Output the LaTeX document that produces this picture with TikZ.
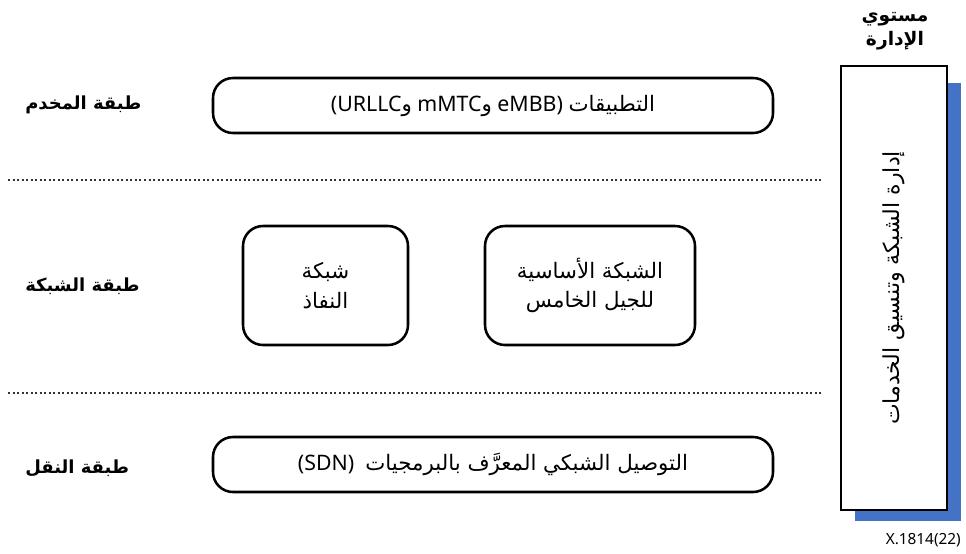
\documentclass[tikz,border=0pt]{standalone}
\usepackage{fontspec}
\setmainfont{Noto Sans}
\newfontfamily\arabicfont[Script=Arabic]{DejaVu Sans}
\TeXXeTstate=1
\newcommand\arab[1]{{\arabicfont\beginR #1\endR}}
\definecolor{shadowblue}{HTML}{4472C4}
\definecolor{dotgray}{HTML}{333333}

\begin{document}
\begin{tikzpicture}[x=0.75pt,y=-0.75pt,
  layerbox/.style={draw=black, line width=1.9pt, rounded corners=15pt,
    fill=white, align=center, inner sep=0pt,
    font=\fontsize{16}{22}\selectfont},
  layerlabel/.style={anchor=west, inner sep=0pt,
    font=\fontsize{13.5}{16}\selectfont\bfseries},
  dotline/.style={draw=dotgray, line width=1.5pt, dash pattern=on 1.5pt off 1.9pt},
  mgmtbox/.style={draw=black, line width=2.2pt, fill=white,
    minimum width=79.5pt, minimum height=333pt, inner sep=0pt},
]
\useasboundingbox (0,0) rectangle (966,553);

% layer separators
\coordinate (sepAw) at (8,180);
\coordinate (sepAe) at (823,180);
\coordinate (sepBw) at (8,393);
\coordinate (sepBe) at (823,393);
\draw[dotline] (sepAw) -- (sepAe);
\draw[dotline] (sepBw) -- (sepBe);

% layer names
\node[layerlabel] (lserver) at (25,105) {\arab{طبقة المخدم}};
\node[layerlabel] (lnet) at (25,286) {\arab{طبقة الشبكة}};
\node[layerlabel] (ltrans) at (25,468) {\arab{طبقة النقل}};

% service layer
\node[layerbox, minimum width=420pt, minimum height=41.25pt] (apps) at (493,105.5)
  {(URLLC\arab{و} mMTC\arab{و} eMBB) \arab{التطبيقات}};

% network layer
\node[layerbox, minimum width=123.75pt, minimum height=89.25pt] (access) at (325.5,285.5)
  {\arab{شبكة}\\\arab{النفاذ}};
\node[layerbox, minimum width=157.5pt, minimum height=89.25pt] (core) at (590,285.5)
  {\arab{الشبكة الأساسية}\\\arab{للجيل الخامس}};

% transport layer
\node[layerbox, minimum width=420pt, minimum height=41.25pt] (sdn) at (493,464.5)
  {(SDN)\ \ \arab{التوصيل الشبكي المعرَّف بالبرمجيات}};

% management plane
\fill[shadowblue] (855,83) rectangle (961,521);
\node[mgmtbox] (mgmt) at (894,288) {};
\node[rotate=90, inner sep=0pt, font=\fontsize{16.5}{19}\selectfont] (mgmttext) at (mgmt.center)
  {\arab{إدارة الشبكة وتنسيق الخدمات}};
\node[align=center, inner sep=0pt, font=\fontsize{14}{18}\selectfont\bfseries] (mgmttitle) at (895,31)
  {\arab{مستوي}\\\arab{الإدارة}};

\node[anchor=east, inner sep=0pt, font=\fontsize{11.5}{13}\selectfont] (ref) at (961,540) {X.1814(22)};
\end{tikzpicture}
\end{document}
